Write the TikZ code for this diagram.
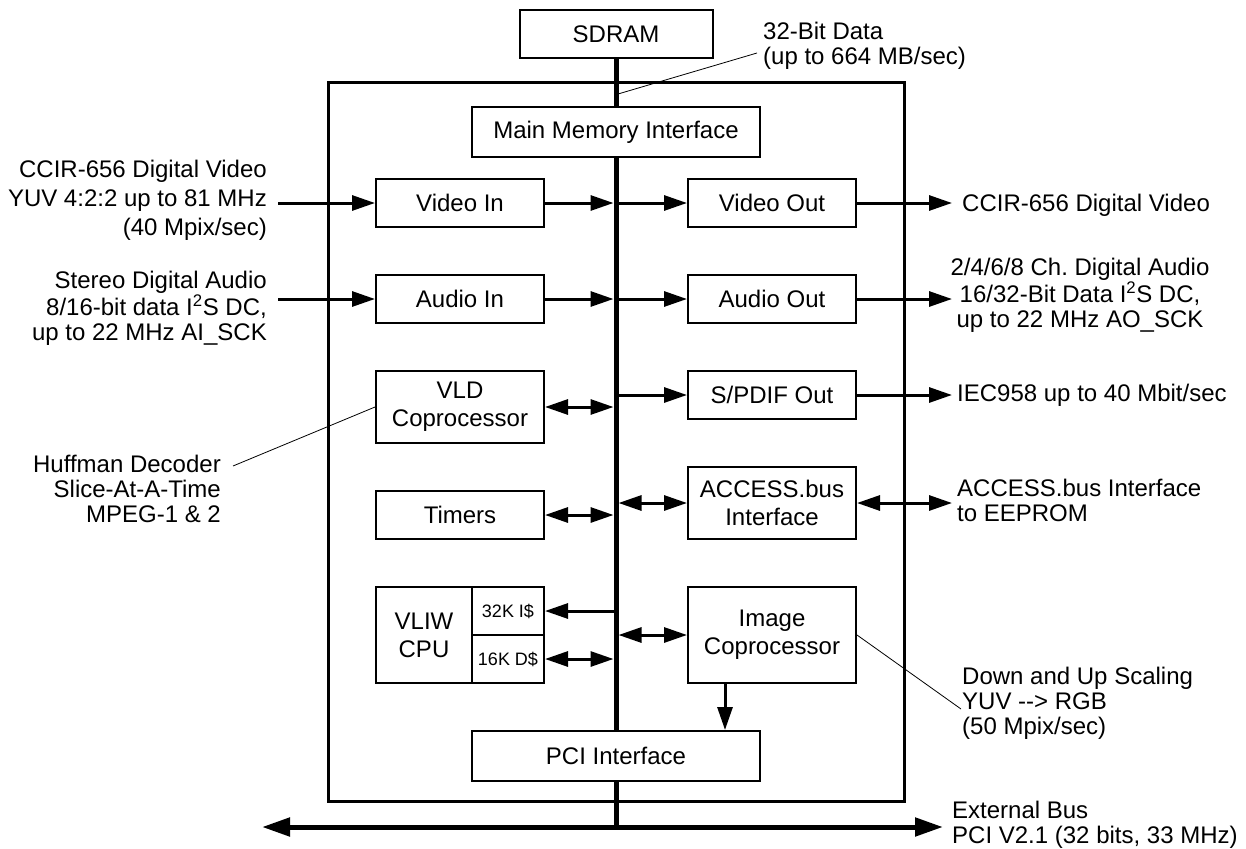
\documentclass[tikz,border=0pt]{standalone}
\usepackage{fontspec}
\setmainfont{Liberation Sans}
\usetikzlibrary{arrows.meta}
\frenchspacing

\begin{document}
\begin{tikzpicture}[x=1pt,y=-1pt]
\tikzstyle{every node}+=[inner sep=0pt, font=\fontsize{24}{25}\selectfont]
\tikzstyle{blk}=[draw, line width=2pt, minimum width=168pt, minimum height=48pt, align=center, font=\fontsize{24}{28}\selectfont]
\tikzstyle{small}=[font=\fontsize{18}{20}\selectfont]
\tikzstyle{sig}=[line width=3pt, -{Triangle[length=23pt,width=15pt]}]
\tikzstyle{sigb}=[line width=3pt, {Triangle[length=23pt,width=15pt]}-{Triangle[length=23pt,width=15pt]}]
\tikzstyle{bus}=[line width=5pt]
\tikzstyle{lead}=[line width=0.8pt]
\useasboundingbox (0,0) rectangle (1246,848);

% chip outline
\node[draw, line width=3pt, minimum width=576pt, minimum height=718pt] (chip) at (616,442) {};

% blocks
\node[blk, minimum width=193pt] (sdram) at (616,34) {SDRAM};
\node[blk, minimum width=288pt, minimum height=50pt] (mmi) at (616,132) {Main Memory Interface};
\node[blk] (vin) at (460,203) {Video In};
\node[blk] (vout) at (772,203) {Video Out};
\node[blk] (ain) at (460,299) {Audio In};
\node[blk] (aout) at (772,299) {Audio Out};
\node[blk, minimum height=72pt] (vld) at (460,407) {VLD\\Coprocessor};
\node[blk] (spdif) at (772,395) {S/PDIF Out};
\node[blk] (timers) at (460,515) {Timers};
\node[blk, minimum height=72pt] (acc) at (772,503) {ACCESS.bus\\Interface};
\node[blk, minimum width=96pt, minimum height=96pt] (cpu) at (424,635) {VLIW\\CPU};
\node[blk, small, minimum width=72pt] (icache) at (508,611) {32K I\$};
\node[blk, small, minimum width=72pt] (dcache) at (508,659) {16K D\$};
\node[blk, minimum height=96pt] (img) at (772,635) {Image\\Coprocessor};
\node[blk, minimum width=288pt, minimum height=50pt] (pci) at (616,756) {PCI Interface};

% internal bus and external bus
\coordinate (xbus) at (616,827);
\coordinate (xl) at (262,827);
\coordinate (xr) at (943,827);
\draw[bus] (sdram.south) -- (mmi.north);
\draw[bus] (mmi.south) -- (pci.north);
\draw[bus] (pci.south) -- (xbus);
\draw[bus, {Triangle[length=28pt,width=18pt]}-{Triangle[length=28pt,width=18pt]}] (xl) -- (xr);

% to and from the bus
\draw[sig, shorten >=2.5pt] (vin.east) -- (vin.east -| mmi.south);
\draw[sig] (vout.west -| mmi.south) -- (vout.west);
\draw[sig, shorten >=2.5pt] (ain.east) -- (ain.east -| mmi.south);
\draw[sig] (aout.west -| mmi.south) -- (aout.west);
\draw[sigb, shorten >=2.5pt] (vld.east) -- (vld.east -| mmi.south);
\draw[sig] (spdif.west -| mmi.south) -- (spdif.west);
\draw[sigb, shorten >=2.5pt] (timers.east) -- (timers.east -| mmi.south);
\draw[sigb, shorten <=2.5pt] (acc.west -| mmi.south) -- (acc.west);
\draw[sig] (icache.east -| mmi.south) -- (icache.east);
\draw[sigb, shorten >=2.5pt] (dcache.east) -- (dcache.east -| mmi.south);
\draw[sigb, shorten <=2.5pt] (img.west -| mmi.south) -- (img.west);
\draw[sig] ([xshift=-47pt]img.south) -- ([xshift=-47pt]img.south |- pci.north);

% off-chip signals
\coordinate (ltail) at (278,0);
\coordinate (rtip) at (952,0);
\draw[sig] (vin.west -| ltail) -- (vin.west);
\draw[sig] (ain.west -| ltail) -- (ain.west);
\draw[sig] (vout.east) -- (vout.east -| rtip);
\draw[sig] (aout.east) -- (aout.east -| rtip);
\draw[sig] (spdif.east) -- (spdif.east -| rtip);
\draw[sigb] (acc.east) -- (acc.east -| rtip);

% labels
\node[anchor=east, align=right, font=\fontsize{24}{29}\selectfont] (vinlbl) at (267,200) {CCIR-656 Digital Video\\YUV 4:2:2 up to 81 MHz\\(40 Mpix/sec)};
\node[anchor=east, align=right] (ainlbl) at (267,308) {Stereo Digital Audio\\8/16-bit data I\textsuperscript{2}S DC,\\up to 22 MHz AI\_SCK};
\node[anchor=east, align=right] (hufflbl) at (221,489) {Huffman Decoder\\Slice-At-A-Time\\MPEG-1 \& 2};
\node[anchor=west] (voutlbl) at (962,205) {CCIR-656 Digital Video};
\node[align=center] (aoutlbl) at (1080,295) {2/4/6/8 Ch. Digital Audio\\16/32-Bit Data I\textsuperscript{2}S DC,\\up to 22 MHz AO\_SCK};
\node[anchor=west] (splbl) at (957,395) {IEC958 up to 40 Mbit/sec};
\node[anchor=west, align=left] (acclbl) at (957,500) {ACCESS.bus Interface\\to EEPROM};
\node[anchor=west, align=left] (imglbl) at (962,703) {Down and Up Scaling\\YUV -{}-> RGB\\(50 Mpix/sec)};
\node[anchor=west, align=left] (xlbl) at (952,825) {External Bus\\PCI V2.1 (32 bits, 33 MHz)};
\node[anchor=west, align=left] (dlbl) at (763,46) {32-Bit Data\\(up to 664 MB/sec)};

% leader lines
\coordinate (dtap) at (618,94);
\coordinate (dend) at (757,53);
\coordinate (imgend) at (961,709);
\coordinate (huffend) at (233,466);
\draw[lead] (dtap) -- (dend);
\draw[lead] (img.east) -- (imgend);
\draw[lead] (vld.west) -- (huffend);
\end{tikzpicture}
\end{document}
